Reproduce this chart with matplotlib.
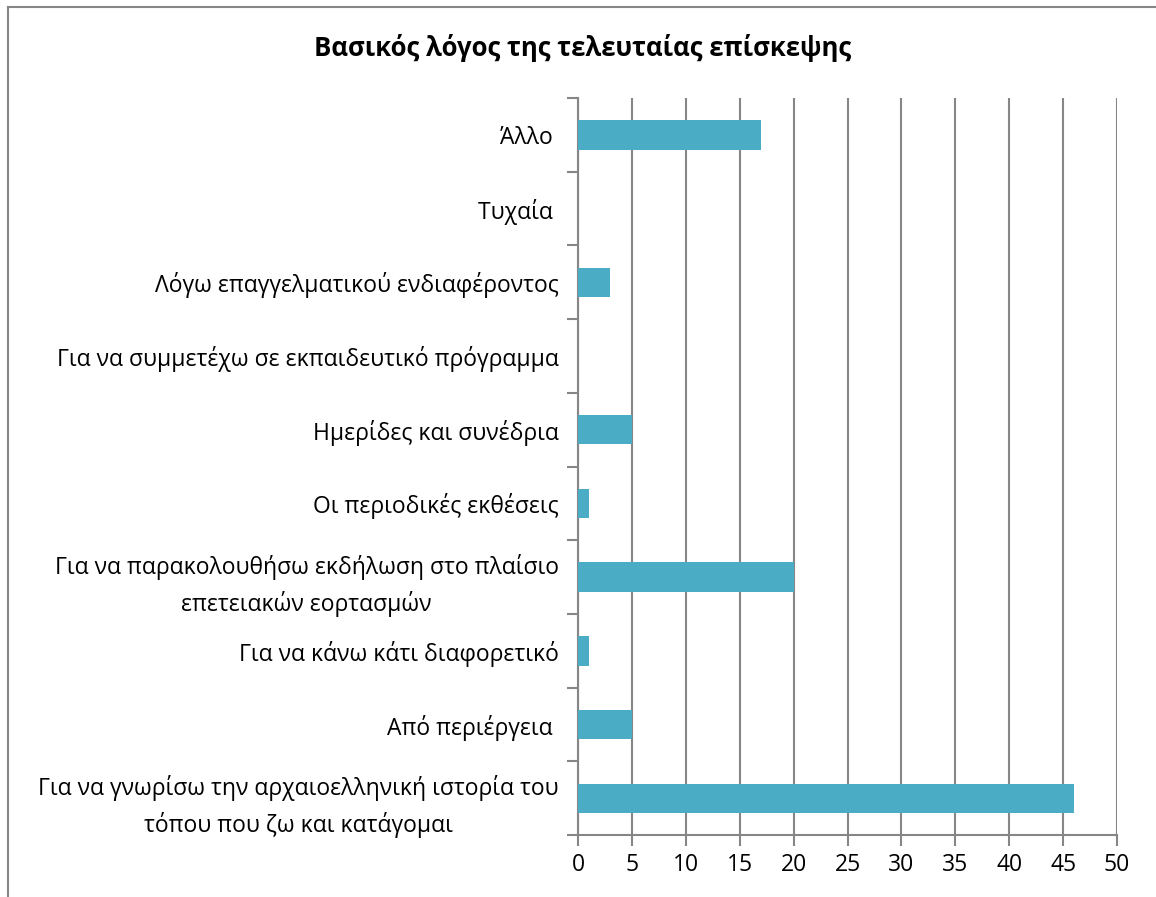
import numpy as np
import matplotlib.pyplot as plt
from matplotlib.lines import Line2D

plt.rcParams['font.family'] = ['Open Sans', 'DejaVu Sans']

# categories from bottom to top
labels = [
    'Για να γνωρίσω την αρχαιοελληνική ιστορία του\nτόπου που ζω και κατάγομαι',
    'Από περιέργεια ',
    'Για να κάνω κάτι διαφορετικό',
    'Για να παρακολουθήσω εκδήλωση στο πλαίσιο\nεπετειακών εορτασμών',
    'Οι περιοδικές εκθέσεις',
    'Ημερίδες και συνέδρια',
    'Για να συμμετέχω σε εκπαιδευτικό πρόγραμμα',
    'Λόγω επαγγελματικού ενδιαφέροντος',
    'Τυχαία ',
    'Άλλο ',
]
values = [46, 5, 1, 20, 1, 5, 0, 3, 0, 17]
xticks = list(range(0, 51, 5))

grey = '#868686'
fig = plt.figure(figsize=(11.56, 8.97), dpi=100)
ax = fig.add_axes([0.5, 0.069, 0.4663, 0.8217])

y = np.arange(len(labels))
ax.barh(y, values, height=0.4, color='#4BACC6', linewidth=0, zorder=3)

ax.set_xlim(0, 50)
ax.set_ylim(-0.5, len(labels) - 0.5)
ax.set_xticks(xticks)
ax.grid(axis='x', color=grey, linewidth=1.5, zorder=0)

ax.set_yticks(y)
ax.set_yticklabels(labels, fontsize=16.5)
for lbl in ax.get_yticklabels():
    lbl.set_multialignment('center')
    lbl.set_linespacing(1.55)
ax.tick_params(axis='y', which='major', length=0, pad=14)
ax.set_yticks(np.arange(-0.5, len(labels), 1.0), minor=True)
ax.tick_params(axis='y', which='minor', length=8, width=1.5, color=grey)
ax.tick_params(axis='x', length=8, width=1.5, color=grey, labelsize=16.5, pad=5)

for side in ['top', 'right']:
    ax.spines[side].set_visible(False)
for side in ['left', 'bottom']:
    ax.spines[side].set_color(grey)
    ax.spines[side].set_linewidth(1.5)

fig.text(0.504, 0.946, 'Βασικός λόγος της τελευταίας επίσκεψης', ha='center', va='center',
         fontsize=18.5, fontweight='bold')

# chart frame (top and left edges visible)
fig.add_artist(Line2D([0.007, 1.0], [0.992, 0.992], color=grey, linewidth=1.5, transform=fig.transFigure))
fig.add_artist(Line2D([0.007, 0.007], [0.0, 0.992], color=grey, linewidth=1.5, transform=fig.transFigure))

fig.savefig('out.png', dpi=100)
